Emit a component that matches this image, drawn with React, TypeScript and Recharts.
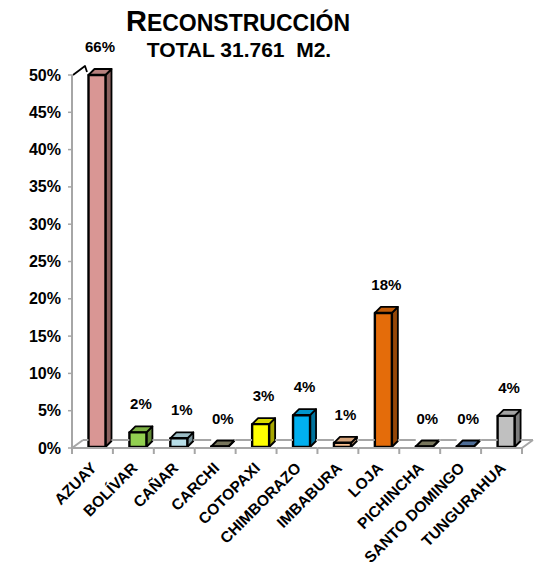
import React from 'react';
import { BarChart, Bar, XAxis, YAxis, Cell, LabelList } from 'recharts';

// valores (porcentaje de m2 por provincia)
const provincias = [
  'AZUAY',
  'BOLÍVAR',
  'CAÑAR',
  'CARCHI',
  'COTOPAXI',
  'CHIMBORAZO',
  'IMBABURA',
  'LOJA',
  'PICHINCHA',
  'SANTO DOMINGO',
  'TUNGURAHUA',
];
const porcentajes = [66.2, 2.1, 1.3, 0.2, 3.2, 4.4, 0.7, 18.1, 0.1, 0.1, 4.3];
const colores = [
  '#d99694',
  '#92d050',
  '#b7dee8',
  '#8c8a6c',
  '#ffff00',
  '#00b0f0',
  '#fac090',
  '#e46c0a',
  '#8c8a6c',
  '#5b7fb0',
  '#c0c0c0',
];
const ticksY = [0, 5, 10, 15, 20, 25, 30, 35, 40, 45, 50];
const TOPE = 50;

const data = provincias.map((nombre, i) => ({
  nombre,
  valor: porcentajes[i],
  barra: Math.min(porcentajes[i], TOPE),
}));

const FUENTE = '"Liberation Sans", Arial, sans-serif';
const GRIS = '#a6a6a6';
const ANCHO_BARRA = 17;
const DESPLAZ = 4.5; // la cara frontal se corre a la derecha dentro de la banda
const PROF_X = 6;
const PROF_Y = 6;
const PISO_X = 11;
const PISO_Y = 8;

const oscurecer = (hex: string, f: number) => {
  const n = parseInt(hex.slice(1), 16);
  const r = Math.round(((n >> 16) & 255) * f);
  const g = Math.round(((n >> 8) & 255) * f);
  const b = Math.round((n & 255) * f);
  return `rgb(${r},${g},${b})`;
};

const Barra3D = (props: any) => {
  const { x, y, width, height, index } = props;
  const color = colores[index];
  const fx = x + DESPLAZ;
  const w = width;
  const abajo = y + height - 1;
  const arriba = Math.min(y, abajo - 0.5);
  const cortada = porcentajes[index] > TOPE;
  return (
    <g stroke="#000" strokeWidth={1.8} strokeLinejoin="round">
      <polygon
        points={`${fx + w},${arriba} ${fx + w + PROF_X},${arriba - PROF_Y} ${fx + w + PROF_X},${abajo - PROF_Y} ${fx + w},${abajo}`}
        fill={oscurecer(color, 0.65)}
      />
      <polygon
        points={`${fx},${arriba} ${fx + PROF_X},${arriba - PROF_Y} ${fx + w + PROF_X},${arriba - PROF_Y} ${fx + w},${arriba}`}
        fill={oscurecer(color, 0.85)}
      />
      <rect x={fx} y={arriba} width={w} height={abajo - arriba} fill={color} strokeWidth={2.4} />
      {cortada && (
        <polyline
          points={`${x - 11},${arriba} ${x + 1},${arriba - 9} ${x + 3},${arriba - 3}`}
          fill="none"
          strokeWidth={1.8}
        />
      )}
    </g>
  );
};

const EtiquetaValor = (props: any) => {
  const vb = props.viewBox || {};
  const x = props.x ?? vb.x;
  const y = props.y ?? vb.y;
  const width = props.width ?? vb.width;
  return (
    <text
      x={x + width / 2 + DESPLAZ + 3}
      y={y - 23}
      textAnchor="middle"
      fontFamily={FUENTE}
      fontWeight="bold"
      fontSize={15}
      fill="#000"
    >
      {`${Math.round(porcentajes[props.index])}%`}
    </text>
  );
};

// etiqueta del eje X + tramo del piso que corresponde a cada banda
const TickProvincia = (props: any) => {
  const { x, y, payload, index } = props;
  const banda = props.width ? props.width / provincias.length : 40.9;
  const izq = x - banda / 2;
  const der = x + banda / 2;
  const bx0 = x - ANCHO_BARRA / 2 + DESPLAZ;
  const bx1 = bx0 + ANCHO_BARRA + PROF_X;
  const atras = y - PISO_Y;
  const ultimo = index === provincias.length - 1;
  return (
    <g>
      <g stroke={GRIS} strokeWidth={2} fill="none">
        <line x1={izq} y1={y} x2={der} y2={y} />
        <line x1={izq + (index === 0 ? PISO_X : 0)} y1={atras} x2={bx0} y2={atras} />
        <line x1={bx1} y1={atras} x2={der + (ultimo ? PISO_X : 0)} y2={atras} />
        <line x1={der} y1={y} x2={der} y2={y + 6} />
        {index === 0 && <line x1={izq} y1={y} x2={izq + PISO_X} y2={atras} />}
        {index === 0 && <line x1={izq} y1={y} x2={izq} y2={y + 6} />}
        {ultimo && <line x1={der} y1={y} x2={der + PISO_X} y2={atras} />}
      </g>
      <g transform={`translate(${x + 5},${y + 21}) rotate(-45)`}>
        <text
          x={0}
          y={0}
          textAnchor="end"
          fontFamily={FUENTE}
          fontWeight="bold"
          fontSize={15.5}
          fill="#000"
        >
          {payload.value}
        </text>
      </g>
    </g>
  );
};

const TickPorcentaje = (props: any) => {
  const { x, y, payload } = props;
  return (
    <text
      x={x}
      y={y + 5.5}
      textAnchor="end"
      fontFamily={FUENTE}
      fontWeight="bold"
      fontSize={16}
      fill="#000"
    >
      {`${payload.value}%`}
    </text>
  );
};

export default function App() {
  return (
    <div style={{ position: 'absolute', left: 0, top: 0, width: 540, height: 566, background: '#fff' }}>
      <svg
        width={540}
        height={70}
        style={{ position: 'absolute', left: 0, top: 0, pointerEvents: 'none' }}
      >
        <text x={238} y={31} textAnchor="middle" fontFamily={FUENTE} fontWeight="bold" fill="#000">
          <tspan fontSize={29}>R</tspan>
          <tspan fontSize={23}>ECONSTRUCCIÓN</tspan>
        </text>
        <text
          x={239}
          y={57}
          textAnchor="middle"
          fontFamily={FUENTE}
          fontWeight="bold"
          fontSize={21}
          fill="#000"
          style={{ whiteSpace: 'pre' }}
        >
          TOTAL 31.761  M2.
        </text>
      </svg>
      <BarChart
        width={540}
        height={566}
        data={data}
        margin={{ top: 75, right: 18, bottom: 18, left: 8 }}
        barSize={ANCHO_BARRA}
      >
        <XAxis
          dataKey="nombre"
          interval={0}
          height={100}
          axisLine={false}
          tickLine={false}
          tickSize={0}
          tickMargin={0}
          tick={<TickProvincia />}
        />
        <YAxis
          width={64}
          domain={[0, TOPE]}
          ticks={ticksY}
          interval={0}
          axisLine={{ stroke: GRIS, strokeWidth: 2 }}
          tickLine={{ stroke: GRIS, strokeWidth: 1.5 }}
          tickSize={4}
          tickMargin={7}
          tick={<TickPorcentaje />}
        />
        <Bar dataKey="barra" isAnimationActive={false} shape={<Barra3D />}>
          {data.map((d, i) => (
            <Cell key={d.nombre} fill={colores[i]} />
          ))}
          <LabelList dataKey="valor" content={<EtiquetaValor />} />
        </Bar>
      </BarChart>
    </div>
  );
}
